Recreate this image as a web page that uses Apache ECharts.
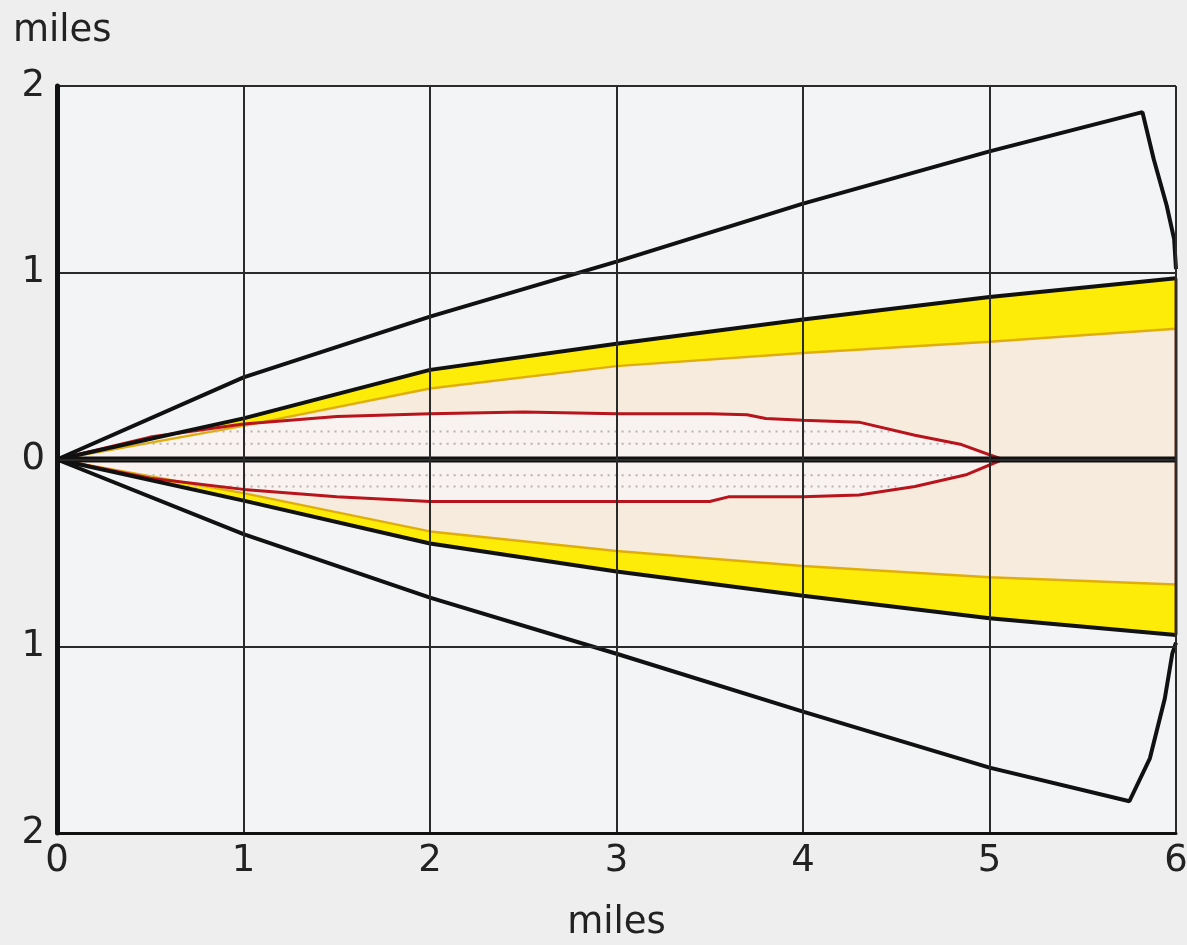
<!DOCTYPE html>
<html>
<head>
<meta charset="utf-8">
<script src="https://cdn.jsdelivr.net/npm/echarts@6/dist/echarts.min.js"></script>
<style>html,body{margin:0;padding:0;background:#eeeeee}#c{width:1187px;height:945px}</style>
</head>
<body>
<div id="c"></div>
<script>
// ---- data (miles) ----
var xTicks = [0, 1, 2, 3, 4, 5, 6];
var yTicks = [-2, -1, 0, 1, 2];

var outerUpper = [[0,0],[1,0.44],[2,0.765],[3,1.06],[4,1.37],[5,1.65],[5.82,1.86],[5.88,1.61],[5.95,1.36],[5.99,1.18],[6,1.02]];
var outerLower = [[0,0],[1,-0.40],[2,-0.74],[3,-1.04],[4,-1.35],[5,-1.65],[5.75,-1.83],[5.86,-1.6],[5.94,-1.28],[5.98,-1.04],[6,-0.98]];

var bandUpperOuter = [[0,0],[1,0.22],[2,0.48],[3,0.62],[4,0.75],[5,0.87],[6,0.97]];
var bandUpperInner = [[0,0],[1,0.18],[2,0.38],[3,0.50],[4,0.57],[5,0.63],[6,0.70]];
var bandLowerOuter = [[0,0],[1,-0.22],[2,-0.45],[3,-0.60],[4,-0.73],[5,-0.85],[6,-0.94]];
var bandLowerInner = [[0,0],[1,-0.18],[2,-0.385],[3,-0.49],[4,-0.57],[5,-0.63],[6,-0.67]];

var redUpper = [[0,0],[0.5,0.12],[1,0.19],[1.5,0.23],[2,0.245],[2.5,0.255],[3,0.245],[3.5,0.245],[3.7,0.24],[3.8,0.22],[4,0.21],[4.3,0.2],[4.6,0.13],[4.85,0.08],[5.07,0]];
var redLower = [[0,0],[0.5,-0.10],[1,-0.16],[1.5,-0.2],[2,-0.225],[3,-0.225],[3.5,-0.225],[3.6,-0.2],[4,-0.2],[4.3,-0.19],[4.6,-0.145],[4.88,-0.08],[5.07,0]];

var centerLine = [[0,0],[6,0]];
var rightEdge = [[6,-0.94],[6,0.97]];

var dotRows = [
  [[0.7,0.15],[4.5,0.15]],
  [[0.4,0.085],[4.8,0.085]],
  [[0.4,-0.085],[4.8,-0.085]],
  [[0.7,-0.145],[4.5,-0.145]]
];

// ---- helpers ----
function polygon(upper, lower, fill, z) {
  return {
    type: 'custom', coordinateSystem: 'cartesian2d', silent: true, z: z,
    data: [[0, 0]],
    renderItem: function (params, api) {
      var pts = upper.concat(lower.slice().reverse()).map(function (p) { return api.coord(p); });
      return { type: 'polygon', shape: { points: pts }, style: { fill: fill } };
    }
  };
}
function line(data, color, width, z, type) {
  return {
    type: 'line', data: data, showSymbol: false, silent: true, z: z,
    lineStyle: { color: color, width: width, type: type || 'solid' }
  };
}

var fontFam = 'DejaVu Sans';
var series = [
  polygon(bandUpperInner, bandLowerInner, '#f7ebdd', 1),
  polygon(bandUpperOuter, bandUpperInner, '#fdeb08', 2),
  polygon(bandLowerInner, bandLowerOuter, '#fdeb08', 2),
  polygon(redUpper, redLower, '#f8f3f1', 3),
  line(bandUpperInner, '#e0ae0c', 2.5, 4),
  line(bandLowerInner, '#e0ae0c', 2.5, 4)
];
dotRows.forEach(function (r) { series.push(line(r, '#b9b0b0', 2, 4, [2, 5])); });
series.push(
  line(redUpper, '#b8141c', 3, 5),
  line(redLower, '#b8141c', 3, 5),
  line(bandUpperOuter, '#111111', 4, 6),
  line(bandLowerOuter, '#111111', 4, 6),
  line(outerUpper, '#111111', 4, 6),
  line(outerLower, '#111111', 4, 6),
  line(rightEdge, '#5a2a12', 3, 6),
  line(centerLine, '#111111', 6, 7)
);

var chart = echarts.init(document.getElementById('c'));
chart.setOption({
  backgroundColor: '#eeeeee',
  animation: false,
  grid: { left: 57, right: 11, top: 86, bottom: 112, show: true, backgroundColor: '#f3f4f6', borderWidth: 0,
          containLabel: false, outerBoundsMode: 'none' },
  xAxis: {
    type: 'value', min: 0, max: 6, interval: 1, z: 10,
    name: 'miles', nameLocation: 'middle', nameGap: 72,
    nameTextStyle: { fontFamily: fontFam, fontSize: 37, color: '#222' },
    axisLine: { show: true, onZero: false, lineStyle: { color: '#111', width: 3 } },
    axisTick: { show: false },
    axisLabel: { fontFamily: fontFam, fontSize: 37, color: '#222', margin: 10,
      formatter: function (v) { return xTicks.indexOf(v) >= 0 ? String(v) : ''; } },
    splitLine: { show: true, lineStyle: { color: '#2a2a2a', width: 2 } }
  },
  yAxis: {
    type: 'value', min: -2, max: 2, interval: 1, z: 10,
    name: 'miles', nameLocation: 'end', nameGap: 36,
    nameTextStyle: { fontFamily: fontFam, fontSize: 37, color: '#222', align: 'left', padding: [0, 0, 0, -44] },
    axisLine: { show: true, onZero: false, lineStyle: { color: '#111', width: 5 } },
    axisTick: { show: false },
    axisLabel: { fontFamily: fontFam, fontSize: 37, color: '#222', margin: 12,
      formatter: function (v) { return yTicks.indexOf(v) >= 0 ? String(Math.abs(v)) : ''; } },
    splitLine: { show: true, lineStyle: { color: '#2a2a2a', width: 2 } }
  },
  series: series
});
</script>
</body>
</html>
